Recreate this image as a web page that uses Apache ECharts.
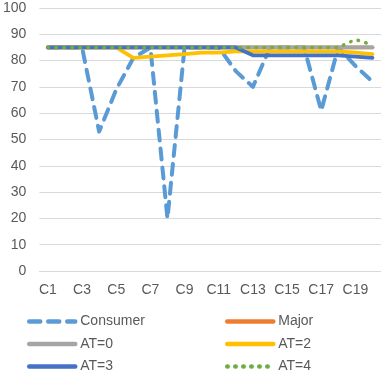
<!DOCTYPE html>
<html>
<head>
<meta charset="utf-8">
<script src="https://cdn.jsdelivr.net/npm/echarts@6/dist/echarts.min.js"></script>
<style>
  html, body { margin: 0; padding: 0; background: #fff; }
  #chart { width: 381px; height: 373px; }
</style>
</head>
<body>
<div id="chart"></div>
<script>
const categories = ['C1', 'C2', 'C3', 'C4', 'C5', 'C6', 'C7', 'C8', 'C9', 'C10',
  'C11', 'C12', 'C13', 'C14', 'C15', 'C16', 'C17', 'C18', 'C19', 'C20'];

const consumer = [85, 85, 85, 53, 69, 81, 85, 20, 85, 85, 85, 76, 70, 85, 85, 85, 61, 85, 78, 72];
const major = [85, 85, 85, 85, 85, 85, 85, 85, 85, 85, 85, 85, 85, 85, 85, 85, 85, 85, 85, 85];
const at0 = [85, 85, 85, 85, 85, 85, 85, 85, 85, 85, 85, 85, 85, 85, 85, 85, 85, 85, 85, 85];
const at2 = [85, 85, 85, 85, 85, 81, 81.5, 82, 82.5, 83, 83, 83.5, 83.5, 83.5, 83.5, 83.5, 83.5, 83.5, 83, 82.5];
const at3 = [85, 85, 85, 85, 85, 85, 85, 85, 85, 85, 85, 85, 82, 82, 82, 82, 82, 82, 81.5, 81];
const at4 = [85, 85, 85, 85, 85, 85, 85, 85, 85, 85, 85, 85, 85, 85, 85, 85, 85, 85, 88, 86];

// legend layout: two columns, three rows
const legendNames = ['Consumer', 'Major', 'AT=0', 'AT=2', 'AT=3', 'AT=4'];

const font = 'Liberation Sans';
const textColor = '#595959';

function line(name, data, color, style) {
  return {
    name: name,
    type: 'line',
    data: data,
    symbol: 'none',
    animation: false,
    lineStyle: Object.assign({color: color, width: 3.8, cap: 'round', join: 'round'}, style || {}),
    itemStyle: {color: color},
  };
}

const legends = legendNames.map((name, i) => ({
  data: [name],
  left: i % 2 === 0 ? 27 : 225,
  top: 313.5 + Math.floor(i / 2) * 22.5,
  padding: 0,
  itemWidth: 46,
  itemHeight: 16,
  itemGap: 0,
  itemStyle: {opacity: 0},
  lineStyle: {width: 4.5},
  textStyle: {fontFamily: font, fontSize: 14, color: textColor, lineHeight: 16, padding: [0, 0, 0, 0]},
}));

const chart = echarts.init(document.getElementById('chart'));
chart.setOption({
  backgroundColor: '#fff',
  grid: {left: 38, right: 0, top: 8, bottom: 102, containLabel: false},
  legend: legends,
  xAxis: {
    type: 'category',
    data: categories,
    boundaryGap: true,
    axisLine: {lineStyle: {color: '#D9D9D9', width: 1}},
    axisTick: {show: false},
    axisLabel: {interval: 1, margin: 12, fontFamily: font, fontSize: 14, color: textColor},
    splitLine: {show: false},
  },
  yAxis: {
    type: 'value',
    min: 0,
    max: 100,
    interval: 10,
    axisLine: {show: false},
    axisTick: {show: false},
    axisLabel: {margin: 13, fontFamily: font, fontSize: 14, color: textColor},
    splitLine: {lineStyle: {color: '#D9D9D9', width: 1}},
  },
  graphic: [{
    type: 'rect',
    shape: {x: 281, y: 0, width: 100, height: 37},
    style: {fill: '#fff'},
    z: 0,
    silent: true,
  }],
  series: [
    line('Consumer', consumer, '#5B9BD5', {type: [11, 8], width: 4}),
    line('Major', major, '#ED7D31'),
    line('AT=0', at0, '#A5A5A5'),
    line('AT=2', at2, '#FFC000'),
    line('AT=3', at3, '#4472C4'),
    line('AT=4', at4, '#70AD47', {type: [0.5, 7.5], width: 3.5}),
  ],
});
</script>
</body>
</html>
